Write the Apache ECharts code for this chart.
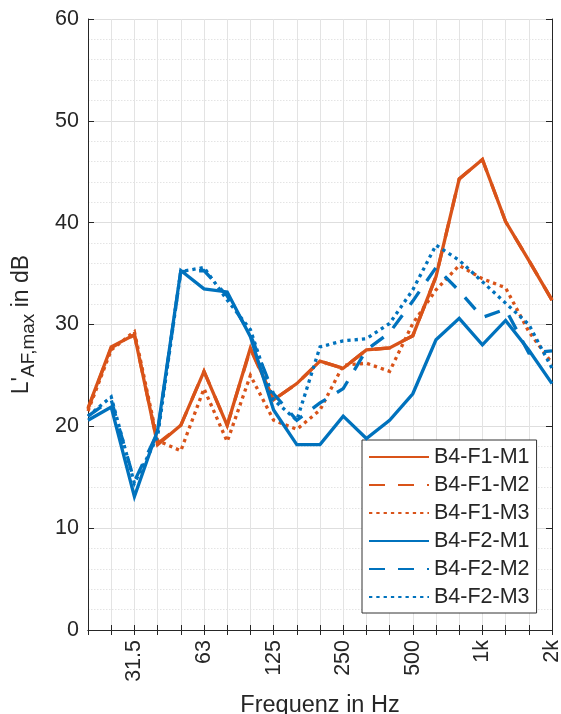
<!DOCTYPE html>
<html>
<head>
<meta charset="utf-8">
<script src="https://cdn.jsdelivr.net/npm/echarts@6/dist/echarts.min.js"></script>
<style>html,body{margin:0;padding:0;background:#fff;}#c{width:561px;height:714px;}</style>
</head>
<body>
<div id="c"></div>
<script>
const categories = ['20','25','31.5','40','50','63','80','100','125','160','200','250','315','400','500','630','800','1k','1.25k','1.6k','2k'];
const tickLabels = ['31.5','63','125','250','500','1k','2k'];
const seriesNames = ['B4-F1-M1','B4-F1-M2','B4-F1-M3','B4-F2-M1','B4-F2-M2','B4-F2-M3'];
const f1m1 = [21.8,27.8,29.0,18.2,20.1,25.4,20.1,27.7,22.6,24.2,26.4,25.7,27.5,27.7,28.9,34.7,44.3,46.2,40.1,36.3,32.4];
const f1m2 = [21.7,27.7,29.0,18.3,20.1,25.4,20.1,27.6,22.6,24.2,26.4,25.7,27.5,27.7,28.9,34.7,44.3,46.2,40.1,36.3,32.4];
const f1m3 = [21.5,27.5,29.3,18.6,17.6,23.7,18.5,25.0,20.6,19.7,21.6,26.0,26.2,25.4,30.1,33.4,35.8,34.5,33.6,29.3,26.2];
const f2m1 = [20.6,21.9,13.1,19.6,35.3,33.5,33.2,28.8,21.6,18.2,18.2,21.0,18.8,20.6,23.2,28.5,30.6,28.0,30.4,27.5,24.2];
const f2m2 = [21.0,22.6,14.6,19.4,35.2,35.3,32.8,29.0,23.2,20.6,22.3,23.7,27.5,29.2,32.3,35.6,33.3,30.7,31.5,27.2,27.4];
const f2m3 = [21.0,22.9,14.4,19.0,35.2,35.6,32.4,29.5,22.6,20.6,27.8,28.4,28.6,30.1,33.4,37.8,36.3,34.2,32.1,30.0,25.7];
const seriesData = [f1m1,f1m2,f1m3,f2m1,f2m2,f2m3];

const ORANGE = '#D95319', BLUE = '#0072BD';
const colors = [ORANGE,ORANGE,ORANGE,BLUE,BLUE,BLUE];
const dashes = ['solid',[16,13],[3.3,4],'solid',[16,13],[3.3,4]];
const FONT = 'Liberation Sans, Arial, Helvetica, sans-serif';
const TXT = '#262626';

const chart = echarts.init(document.getElementById('c'), null, {renderer:'canvas'});
chart.setOption({
  animation: false,
  backgroundColor: '#fff',
  textStyle: {fontFamily: FONT},
  grid: {left: 88, right: 9, top: 19, bottom: 84, containLabel: false, outerBoundsMode: 'none'},
  legend: {
    orient: 'vertical', left: 362, top: 440,
    backgroundColor: '#fff', borderColor: '#333', borderWidth: 1,
    padding: [6, 7, 5, 6],
    itemWidth: 60, itemHeight: 14, itemGap: 6,
    itemStyle: {opacity: 0},
    textStyle: {fontSize: 21.5, lineHeight: 22, color: TXT, fontFamily: FONT},
    data: seriesNames
  },
  xAxis: [{
    type: 'category', data: categories, boundaryGap: false,
    axisLine: {show: true, lineStyle: {color: TXT, width: 1}},
    axisTick: {show: true, inside: true, length: 5, interval: 0, lineStyle: {color: TXT}},
    axisLabel: {interval: 0, rotate: 90, fontSize: 21.5, color: TXT, margin: 10, fontFamily: FONT,
      formatter: v => tickLabels.includes(v) ? v : ''},
    splitLine: {show: true, interval: 0, lineStyle: {color: '#e3e3e3', width: 1}},
    name: 'Frequenz in Hz', nameLocation: 'middle', nameGap: 64,
    nameTextStyle: {fontSize: 23.5, color: TXT, fontFamily: FONT}
  }, {
    type: 'category', data: categories, boundaryGap: false, position: 'top',
    axisLine: {show: true, lineStyle: {color: TXT, width: 1}},
    axisTick: {show: true, inside: true, length: 5, interval: 0, lineStyle: {color: TXT}},
    axisLabel: {show: false}, splitLine: {show: false}
  }],
  yAxis: [{
    type: 'value', min: 0, max: 60, interval: 10,
    axisLine: {show: true, lineStyle: {color: TXT, width: 1}},
    axisTick: {show: true, inside: true, length: 6, lineStyle: {color: TXT}},
    axisLabel: {fontSize: 21.5, color: TXT, margin: 9, fontFamily: FONT},
    splitLine: {show: true, lineStyle: {color: '#dedede', width: 1}},
    minorTick: {show: false, splitNumber: 5},
    minorSplitLine: {show: true, lineStyle: {color: '#e4e4e4', width: 1, type: [1.5, 1.5]}},
    name: "L'{sub|AF,max} in dB", nameLocation: 'middle', nameRotate: 90, nameGap: 50,
    nameTextStyle: {fontSize: 23, color: TXT, fontFamily: FONT,
      rich: {sub: {fontSize: 19, color: TXT, fontFamily: FONT, padding: [13, 0, 0, 0]}}}
  }, {
    type: 'value', min: 0, max: 60, interval: 10, position: 'right',
    axisLine: {show: true, lineStyle: {color: TXT, width: 1}},
    axisTick: {show: true, inside: true, length: 6, lineStyle: {color: TXT}},
    axisLabel: {show: false}, splitLine: {show: false}
  }],
  series: seriesNames.map((n, k) => ({
    name: n, type: 'line', data: seriesData[k], xAxisIndex: 0, yAxisIndex: 0,
    symbol: 'none', showSymbol: false,
    color: colors[k],
    lineStyle: {color: colors[k], width: 3.3, type: dashes[k], cap: 'butt', join: 'miter'},
    z: 3 + k
  }))
});
</script>
</body>
</html>
